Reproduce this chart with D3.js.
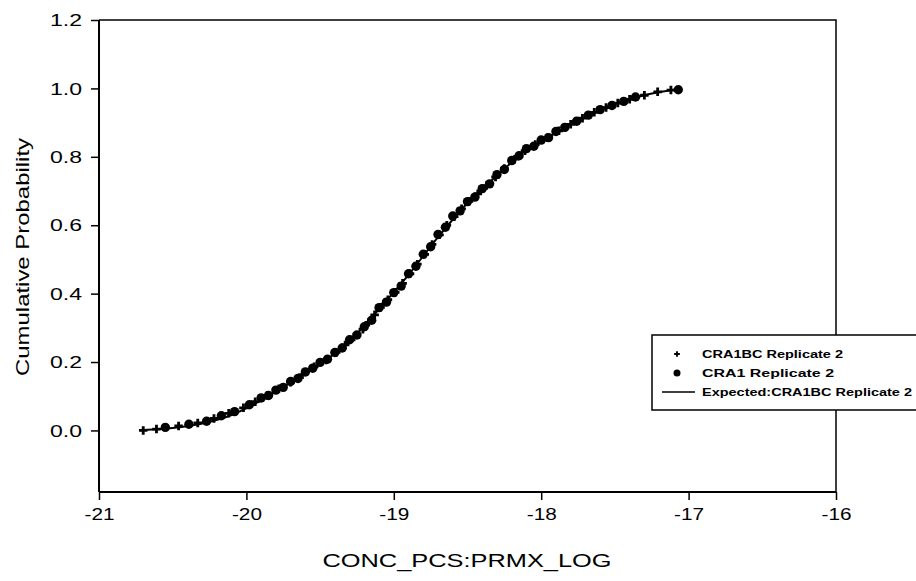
<!DOCTYPE html>
<html><head><meta charset="utf-8">
<script src="https://cdn.jsdelivr.net/npm/d3@7"></script>
<style>body{margin:0;background:#fff}svg{display:block}</style>
</head><body>
<svg id="c" width="916" height="581"></svg>
<script>
// ---- data ----
const xTicks = [-21, -20, -19, -18, -17, -16];
const yTicks = [0.0, 0.2, 0.4, 0.6, 0.8, 1.0, 1.2];
const seriesNames = ["CRA1BC Replicate 2", "CRA1 Replicate 2", "Expected:CRA1BC Replicate 2"];

const cra1bcX = [-20.70,-20.61,-20.46,-20.33,-20.22,-20.12,-20.02,-19.94,-19.86,-19.78,-19.70,-19.62,-19.54,-19.46,-19.39,-19.33,-19.27,-19.21,-19.17,-19.13,-19.09,-19.04,-18.99,-18.94,-18.89,-18.84,-18.79,-18.74,-18.69,-18.64,-18.59,-18.54,-18.49,-18.43,-18.37,-18.31,-18.25,-18.18,-18.11,-18.04,-17.96,-17.88,-17.80,-17.72,-17.64,-17.56,-17.48,-17.40,-17.30,-17.21,-17.12];
const cra1bcY = [0.000,0.004,0.013,0.022,0.035,0.050,0.066,0.084,0.102,0.122,0.141,0.163,0.186,0.206,0.228,0.250,0.273,0.296,0.316,0.338,0.360,0.382,0.404,0.430,0.458,0.486,0.515,0.544,0.572,0.600,0.625,0.648,0.670,0.692,0.716,0.741,0.766,0.793,0.818,0.836,0.856,0.876,0.895,0.913,0.930,0.944,0.957,0.968,0.980,0.990,0.995];

const cra1X = [-20.55,-20.39,-20.27,-20.17,-20.08,-19.98,-19.90,-19.85,-19.80,-19.75,-19.70,-19.65,-19.60,-19.55,-19.50,-19.45,-19.40,-19.35,-19.30,-19.25,-19.20,-19.15,-19.10,-19.05,-19.00,-18.95,-18.90,-18.85,-18.80,-18.75,-18.70,-18.65,-18.60,-18.55,-18.50,-18.45,-18.40,-18.35,-18.30,-18.25,-18.20,-18.15,-18.10,-18.05,-18.00,-17.95,-17.90,-17.84,-17.76,-17.68,-17.60,-17.52,-17.44,-17.36,-17.07];
const cra1Y = [0.009,0.018,0.027,0.043,0.055,0.075,0.095,0.102,0.118,0.126,0.143,0.152,0.171,0.182,0.199,0.208,0.228,0.241,0.265,0.279,0.303,0.322,0.359,0.375,0.403,0.422,0.458,0.480,0.515,0.537,0.573,0.594,0.627,0.642,0.669,0.682,0.707,0.721,0.748,0.763,0.789,0.803,0.824,0.831,0.849,0.856,0.874,0.886,0.904,0.922,0.938,0.950,0.962,0.975,0.996];

const expectedX = [-20.70,-20.50,-20.30,-20.10,-19.90,-19.70,-19.50,-19.30,-19.10,-18.90,-18.70,-18.50,-18.30,-18.10,-17.90,-17.70,-17.50,-17.30,-17.07];
const expectedY = [0.001,0.007,0.020,0.045,0.088,0.140,0.194,0.260,0.355,0.455,0.565,0.665,0.745,0.820,0.870,0.915,0.955,0.980,0.998];

// ---- drawing ----
const svg = d3.select("#c");
const FONT = "Arial, 'Liberation Sans', sans-serif";
const L = 99, R = 836, T = 20, B = 492;
const x = d3.scaleLinear().domain([-21, -16]).range([L, R]);
const y = d3.scaleLinear().domain([-0.18, 1.2]).range([B, T]);

// frame (top/right)
svg.append("path").attr("d", `M${L},${T}H${R}V${B}`).attr("fill","none").attr("stroke","#000").attr("stroke-width",1.5);

const xAxis = svg.append("g").attr("transform", `translate(0,${B})`)
  .call(d3.axisBottom(x).tickValues(xTicks).tickSize(8).tickPadding(9).tickFormat(d => String(d)));
const yAxis = svg.append("g").attr("transform", `translate(${L},0)`)
  .call(d3.axisLeft(y).tickValues(yTicks).tickSize(8).tickPadding(9).tickFormat(d3.format(".1f")));
[xAxis, yAxis].forEach(g => {
  g.select(".domain").attr("stroke","#000").attr("stroke-width",2);
  g.selectAll(".tick line").attr("stroke","#000").attr("stroke-width",1.5);
  g.selectAll(".tick text").attr("fill","#000").style("font-family",FONT).style("font-size","16px")
    .attr("lengthAdjust","spacingAndGlyphs");
});
xAxis.selectAll(".tick text").attr("textLength", 30);
yAxis.selectAll(".tick text").attr("textLength", 32).attr("dy","0.35em");
yAxis.select(".domain").attr("d", `M0,${T}V${B}`);
xAxis.select(".domain").attr("d", `M${L},0H${R}`);

// expected line
const line = d3.line().x(d => x(d[0])).y(d => y(d[1])).curve(d3.curveMonotoneX);
svg.append("path").datum(expectedX.map((v,i)=>[v, expectedY[i]]))
  .attr("d", line).attr("fill","none").attr("stroke","#000").attr("stroke-width",2);

// CRA1 circles
svg.append("g").selectAll("circle").data(cra1X.map((v,i)=>[v, cra1Y[i]])).join("circle")
  .attr("cx", d=>x(d[0])).attr("cy", d=>y(d[1])).attr("r", 4.7).attr("fill","#000");

// CRA1BC small plus markers
const plus = d3.symbol().type(d3.symbolCross).size(40);
svg.append("g").selectAll("path").data(cra1bcX.map((v,i)=>[v, cra1bcY[i]])).join("path")
  .attr("transform", d=>`translate(${x(d[0])},${y(d[1])})`).attr("d", plus()).attr("fill","#000");

// axis titles
svg.append("text").attr("x", 467).attr("y", 567).attr("text-anchor","middle")
  .attr("textLength", 289).attr("lengthAdjust","spacingAndGlyphs")
  .style("font-family",FONT).style("font-size","18px").text("CONC_PCS:PRMX_LOG");
svg.append("text").attr("transform","translate(29,257) rotate(-90)").attr("text-anchor","middle")
  .attr("textLength", 238).attr("lengthAdjust","spacingAndGlyphs")
  .style("font-family",FONT).style("font-size","18px").text("Cumulative Probability");

// legend
const lg = svg.append("g");
lg.append("rect").attr("x",652).attr("y",335).attr("width",270).attr("height",75)
  .attr("fill","#fff").attr("stroke","#000").attr("stroke-width",1.5);
const rows = [354, 373, 392];
const lens = [141, 132, 210];
lg.append("path").attr("transform",`translate(677,${rows[0]})`).attr("d", d3.symbol().type(d3.symbolCross).size(18)()).attr("fill","#000");
lg.append("circle").attr("cx",677).attr("cy",rows[1]).attr("r",3.5).attr("fill","#000");
lg.append("line").attr("x1",662).attr("x2",695).attr("y1",rows[2]).attr("y2",rows[2]).attr("stroke","#000").attr("stroke-width",1.5);
seriesNames.forEach((n,i)=>{
  lg.append("text").attr("x",702).attr("y",rows[i]+4).attr("textLength",lens[i]).attr("lengthAdjust","spacingAndGlyphs")
    .style("font-family",FONT).style("font-size","11.5px").style("font-weight","bold").text(n);
});
</script>
</body></html>
